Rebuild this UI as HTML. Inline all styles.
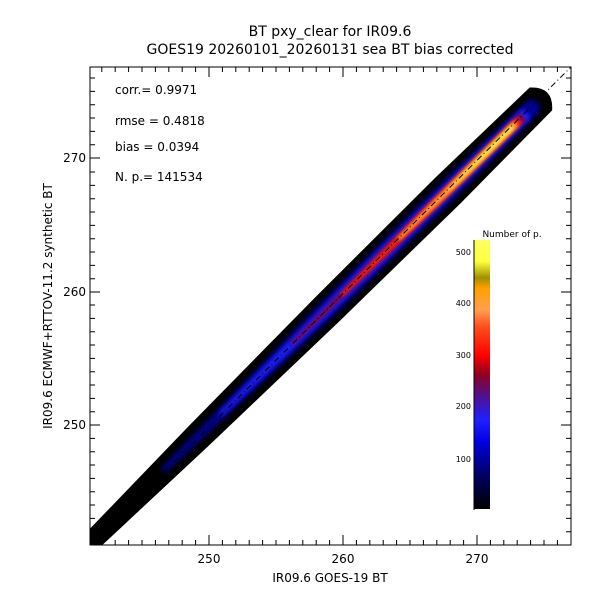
<!DOCTYPE html>
<html><head><style>
body{margin:0;background:#fff;}
svg text{font-family:"DejaVu Sans","Liberation Sans",sans-serif;fill:#000;}
</style></head><body>
<svg width="600" height="600" viewBox="0 0 600 600" xmlns="http://www.w3.org/2000/svg">
<defs>
<filter id="b1" x="-10%" y="-100%" width="120%" height="300%"><feGaussianBlur stdDeviation="2.5"/></filter>
<filter id="b2" x="-10%" y="-100%" width="120%" height="300%"><feGaussianBlur stdDeviation="1.5"/></filter>
<linearGradient id="cb" x1="0" y1="1" x2="0" y2="0">
<stop offset="0" stop-color="#000"/>
<stop offset="0.12" stop-color="#000060"/>
<stop offset="0.25" stop-color="#0000e0"/>
<stop offset="0.33" stop-color="#2020ff"/>
<stop offset="0.42" stop-color="#501090"/>
<stop offset="0.5" stop-color="#900020"/>
<stop offset="0.57" stop-color="#ff0000"/>
<stop offset="0.68" stop-color="#ff5020"/>
<stop offset="0.74" stop-color="#ffa050"/>
<stop offset="0.82" stop-color="#ffa000"/>
<stop offset="0.86" stop-color="#a09000"/>
<stop offset="0.92" stop-color="#ffff40"/>
<stop offset="1" stop-color="#ffff60"/>
</linearGradient>
</defs>
<text x="330" y="36" font-size="14" text-anchor="middle">BT pxy_clear for IR09.6</text>
<text x="330" y="54" font-size="14" text-anchor="middle">GOES19 20260101_20260131 sea BT bias corrected</text>
<svg x="90" y="67" width="481" height="478" overflow="hidden">
<g transform="translate(2,474) rotate(-44.56)">
<path d="M0,-10 L150,-14 L330,-17 L500,-18 L630,-16 Q648,0 630,16 L500,18 L330,17 L150,14 L0,10 Q-8,0 0,-10Z" fill="#000"/>
<path d="M100,-3 L330,-9 L500,-10 L620,-8 Q632,0 620,8 L500,10 L330,9 L100,3Z" fill="#000090" filter="url(#b1)"/>
<path d="M180,-2 L400,-6 L610,-6 L610,6 L400,6 L180,2Z" fill="#2020ff" filter="url(#b1)"/>
<path d="M280,-1.5 L420,-4 L605,-4.5 L605,4.5 L420,4 L280,1.5Z" fill="#800040" filter="url(#b2)"/>
<path d="M350,-1.5 L480,-4 L600,-4 L600,4 L480,4 L350,1.5Z" fill="#ff2000" filter="url(#b2)"/>
<path d="M430,-1.5 L520,-3.5 L595,-3.5 L595,3.5 L520,3.5 L430,1.5Z" fill="#ffa030" filter="url(#b2)"/>
<path d="M500,-0.5 L550,-2 L590,-2 L590,2 L550,2 L500,0.5Z" fill="#f0f040" filter="url(#b2)"/>
</g>
<line x1="0" y1="478" x2="481" y2="0" stroke="#000" stroke-width="1" stroke-dasharray="6,3,1,3"/>
</svg>
<rect x="90" y="67" width="481" height="478" fill="none" stroke="#000" stroke-width="1"/>
<g stroke="#000" stroke-width="1">
<path d="M209,545v-10M343,545v-10M477,545v-10M209,67v10M343,67v10M477,67v10"/>
<path d="M101.8,545v-5M115.2,545v-5M128.6,545v-5M142,545v-5M155.4,545v-5M168.8,545v-5M182.2,545v-5M195.6,545v-5M222.4,545v-5M235.8,545v-5M249.2,545v-5M262.6,545v-5M276,545v-5M289.4,545v-5M302.8,545v-5M316.2,545v-5M329.6,545v-5M356.4,545v-5M369.8,545v-5M383.2,545v-5M396.6,545v-5M410,545v-5M423.4,545v-5M436.8,545v-5M450.2,545v-5M463.6,545v-5M490.4,545v-5M503.8,545v-5M517.2,545v-5M530.6,545v-5M544,545v-5M557.4,545v-5"/>
<path d="M101.8,67v5M115.2,67v5M128.6,67v5M142,67v5M155.4,67v5M168.8,67v5M182.2,67v5M195.6,67v5M222.4,67v5M235.8,67v5M249.2,67v5M262.6,67v5M276,67v5M289.4,67v5M302.8,67v5M316.2,67v5M329.6,67v5M356.4,67v5M369.8,67v5M383.2,67v5M396.6,67v5M410,67v5M423.4,67v5M436.8,67v5M450.2,67v5M463.6,67v5M490.4,67v5M503.8,67v5M517.2,67v5M530.6,67v5M544,67v5M557.4,67v5"/>
<path d="M90,158h10M90,292h10M90,425h10M571,158h-10M571,292h-10M571,425h-10"/>
<path d="M90,531.7h5M90,518.4h5M90,505h5M90,491.7h5M90,478.4h5M90,465h5M90,451.7h5M90,438.4h5M90,411.7h5M90,398.4h5M90,385h5M90,371.7h5M90,358.4h5M90,345h5M90,331.7h5M90,318.4h5M90,305h5M90,278.7h5M90,265.4h5M90,252h5M90,238.7h5M90,225.4h5M90,212h5M90,198.7h5M90,185.4h5M90,172h5M90,144.7h5M90,131.4h5M90,118h5M90,104.7h5M90,91.4h5M90,78h5"/>
<path d="M571,531.7h-5M571,518.4h-5M571,505h-5M571,491.7h-5M571,478.4h-5M571,465h-5M571,451.7h-5M571,438.4h-5M571,411.7h-5M571,398.4h-5M571,385h-5M571,371.7h-5M571,358.4h-5M571,345h-5M571,331.7h-5M571,318.4h-5M571,305h-5M571,278.7h-5M571,265.4h-5M571,252h-5M571,238.7h-5M571,225.4h-5M571,212h-5M571,198.7h-5M571,185.4h-5M571,172h-5M571,144.7h-5M571,131.4h-5M571,118h-5M571,104.7h-5M571,91.4h-5M571,78h-5"/>
</g>
<g font-size="12" text-anchor="middle">
<text x="209" y="563">250</text><text x="343" y="563">260</text><text x="477" y="563">270</text>
<text x="330" y="582">IR09.6 GOES-19 BT</text>
</g>
<g font-size="12" text-anchor="end">
<text x="86" y="162">270</text><text x="86" y="296">260</text><text x="86" y="429">250</text>
</g>
<text transform="translate(52,306) rotate(-90)" font-size="12" text-anchor="middle">IR09.6 ECMWF+RTTOV-11.2 synthetic BT</text>
<g font-size="12">
<text x="115" y="94">corr.= 0.9971</text>
<text x="115" y="125">rmse = 0.4818</text>
<text x="115" y="151">bias = 0.0394</text>
<text x="115" y="181">N. p.=  141534</text>
</g>
<rect x="474" y="240" width="16" height="269" fill="url(#cb)"/>
<line x1="474" y1="240" x2="474" y2="510" stroke="#000"/>
<text x="512" y="237" font-size="9" text-anchor="middle">Number of p.</text>
<g font-size="8" text-anchor="end">
<text x="471" y="255">500</text><text x="471" y="306">400</text><text x="471" y="358">300</text><text x="471" y="409">200</text><text x="471" y="462">100</text>
</g>
</svg>
</body></html>
